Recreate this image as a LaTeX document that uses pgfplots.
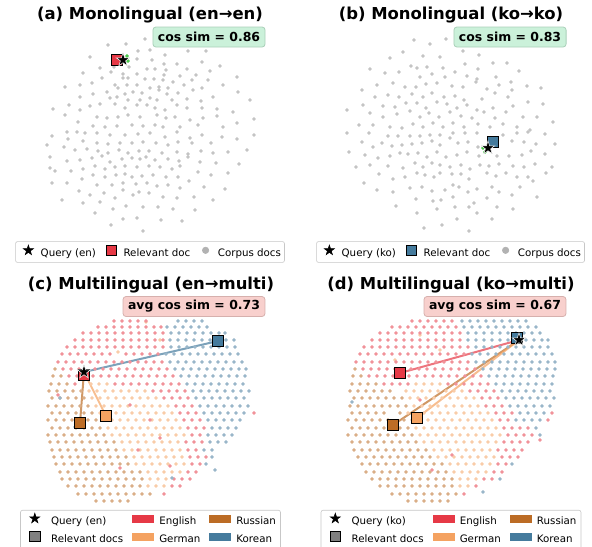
\documentclass[border=0pt]{standalone}
\usepackage{pgfplots}
\pgfplotsset{compat=1.18}
\usepackage{fontspec}
\setmainfont{DejaVu Sans}
\definecolor{cEn}{RGB}{230,57,70}
\definecolor{cDe}{RGB}{244,162,97}
\definecolor{cRu}{RGB}{188,108,37}
\definecolor{cKo}{RGB}{69,123,157}
\definecolor{gbox}{RGB}{203,241,218}
\definecolor{gedge}{RGB}{170,208,185}
\definecolor{pbox}{RGB}{248,208,205}
\definecolor{pedge}{RGB}{214,176,173}
\pgfdeclareplotmark{fstar}{%
  \pgfpathmoveto{\pgfpoint{0pt}{\pgfplotmarksize}}%
  \pgfpathlineto{\pgfpoint{0.2245\pgfplotmarksize}{0.309\pgfplotmarksize}}%
  \pgfpathlineto{\pgfpoint{0.951\pgfplotmarksize}{0.309\pgfplotmarksize}}%
  \pgfpathlineto{\pgfpoint{0.363\pgfplotmarksize}{-0.118\pgfplotmarksize}}%
  \pgfpathlineto{\pgfpoint{0.588\pgfplotmarksize}{-0.809\pgfplotmarksize}}%
  \pgfpathlineto{\pgfpoint{0pt}{-0.382\pgfplotmarksize}}%
  \pgfpathlineto{\pgfpoint{-0.588\pgfplotmarksize}{-0.809\pgfplotmarksize}}%
  \pgfpathlineto{\pgfpoint{-0.363\pgfplotmarksize}{-0.118\pgfplotmarksize}}%
  \pgfpathlineto{\pgfpoint{-0.951\pgfplotmarksize}{0.309\pgfplotmarksize}}%
  \pgfpathlineto{\pgfpoint{-0.2245\pgfplotmarksize}{0.309\pgfplotmarksize}}%
  \pgfpathclose
  \pgfusepathqfillstroke
}
\pgfplotsset{
  panel/.style={at={(0bp,0bp)}, anchor=north west, scale only axis,
    width=592bp, height=547bp, xmin=0, xmax=592, ymin=0, ymax=547,
    y dir=reverse, hide axis, clip=false, legend cell align=left,
    legend style={draw=black!22, rounded corners=2bp, line width=0.6bp, fill=white,
      font=\fontsize{10.3}{12}\selectfont, anchor=center,
      nodes={inner sep=1bp, text height=7.6bp, text depth=2.2bp}}},
  gray dots/.style={only marks, mark=*, mark size=1.65, mark options={draw=black!23, fill=black!23, line width=0.2bp}, forget plot},
  cdots/.style={only marks, mark=*, mark size=1.65, mark options={draw=#1!55!white, fill=#1!55!white, line width=0.2bp}, forget plot},
  qstar/.style={only marks, mark=fstar, mark size=7.2, mark options={fill=black, draw=white, line width=0.5bp}, forget plot},
  rsq/.style={only marks, mark=square*, mark size=#1, forget plot},
  starimg/.style={legend image code/.code={\path (0bp,0bp) (#1,0bp); \begin{scope}[shift={(0.5*#1,3.2bp)}]\pgfsetfillcolor{black}\pgfsetstrokecolor{black}\pgfsetplotmarksize{5.2bp}\pgfuseplotmark{fstar}\end{scope}}},
  sqimg/.style 2 args={legend image code/.code={\path (0bp,0bp) (#2,0bp); \draw[sharp corners, line width=0.9bp, black, fill=#1] (0.5*#2-5.3bp,-2.1bp) rectangle (0.5*#2+5.3bp,8.5bp);}},
  dotimg/.style={legend image code/.code={\path (0bp,0bp) (20bp,0bp); \fill[black!30] (10bp,3.2bp) circle (3.2bp);}},
  patchimg/.style={legend image code/.code={\fill[sharp corners, #1] (0bp,-0.3bp) rectangle (21bp,6.7bp);}},
}
\newcommand{\ttl}[1]{{\fontsize{16.5}{19}\selectfont\bfseries #1}}
\begin{document}
\begin{tikzpicture}
\useasboundingbox (0,0) rectangle (592bp,-547bp);
% ---------------- (a) ----------------
\begin{axis}[panel, legend columns=3,
  legend style={at={(0.2534,0.5393)}, inner xsep=2.5bp, inner ysep=3bp,
    /tikz/every odd column/.style={column sep=1bp}, /tikz/every even column/.style={column sep=4bp}}]
\addplot[gray dots] coordinates {
(108,45) (126,44) (145,39) (150,50) (138,51) (165,55) (188,51) (206,51) (90,57) (137,59) (152,60) (164,64) (177,64) (202,62) (220,66)
(100,68) (114,67) (129,67) (147,69) (155,69) (166,70) (187,69) (210,71) (83,73) (111,72) (123,74) (137,74) (164,75) (180,76) (196,75) (237,77)
(102,78) (123,78) (128,78) (145,79) (154,79) (163,80) (173,82) (192,80) (208,80) (80,85) (65,87) (92,83) (115,85) (127,85) (137,85) (150,88)
(159,87) (168,88) (184,85) (202,88) (223,85) (93,94) (107,92) (118,88) (125,94) (133,92) (142,93) (159,90) (167,94) (178,93) (193,90) (238,92)
(80,97) (110,98) (117,97) (128,100) (140,100) (150,98) (157,100) (172,100) (187,99) (201,101) (213,97) (250,100) (69,105) (90,106) (100,104)
(115,104) (125,108) (137,105) (147,105) (155,108) (165,110) (177,105) (187,108) (202,108) (217,109) (233,112) (53,109) (80,110) (65,115)
(97,117) (107,118) (118,117) (128,115) (140,117) (157,115) (166,118) (175,117) (190,120) (203,118) (217,116) (237,123) (254,119) (78,122) (93,126)
(105,127) (117,126) (132,125) (143,126) (155,125) (163,127) (180,127) (198,125) (223,127) (67,132) (85,133)
(52,136) (77,132) (97,133) (110,135) (125,135) (138,134) (150,133) (165,137) (177,132) (190,138) (202,135) (222,137) (237,139) (254,135)
(47,145) (68,139) (83,141) (97,143) (108,144) (120,143) (132,143) (143,142) (156,143) (168,145) (178,142) (192,143) (211,143)
(64,147) (75,150) (87,149) (98,151) (108,153) (119,150) (128,153) (139,151) (149,151) (162,153) (177,152) (188,154) (201,151) (213,153) (228,152) (247,150)
(50,157) (67,161) (80,160) (92,158) (102,156) (110,162) (122,159) (132,158) (140,159) (146,157) (155,160) (168,159) (179,161) (188,157) (200,162) (216,163) (239,164)
(50,168) (55,171) (71,171) (83,169) (95,166) (105,169) (115,167) (125,166) (137,167) (149,166) (160,167) (172,169) (180,166) (198,172) (228,173)
(82,179) (93,175) (105,177) (116,175) (125,174) (132,177) (142,176) (153,175) (166,177) (178,177) (189,181) (211,175)
(52,183) (67,183) (97,185) (112,185) (123,183) (136,184) (147,183) (157,186) (168,185) (180,188) (204,187)
(79,191) (90,195) (104,193) (123,190) (133,195) (139,192) (149,193) (163,197) (177,198) (194,197) (225,189)
(62,200) (83,203) (100,202) (115,198) (126,206) (143,207) (158,207) (173,209) (195,210) (213,200)
(95,213) (113,209) (123,219) (137,218) (161,220) (182,221) (111,225) (143,231)
};
\addplot[only marks, mark=*, mark size=1.6, mark options={draw=green!70!black!70, fill=green!70!black!70}, forget plot] coordinates {(127,56) (128,61)};
\addplot[rsq=5.3, mark options={fill=cEn, draw=black, line width=0.9bp}] coordinates {(117,60)};
\addplot[qstar] coordinates {(123,60)};
\addlegendimage{starimg=20bp}\addlegendentry{Query (en)}
\addlegendimage{sqimg={cEn}{20bp}}\addlegendentry{Relevant doc}
\addlegendimage{dotimg}\addlegendentry{Corpus docs}
\node[anchor=base] at (axis cs:150,19.5) {\ttl{(a) Monolingual (en→en)}};
\node[fill=gbox, draw=gedge, line width=0.8bp, rounded corners=3bp, inner xsep=5bp, minimum height=20bp, font=\fontsize{12.5}{15}\selectfont\bfseries] at (axis cs:209,37) {cos sim = 0.86};
\end{axis}
% ---------------- (b) ----------------
\begin{axis}[panel, legend columns=3,
  legend style={at={(0.7610,0.5393)}, inner xsep=2.5bp, inner ysep=3bp,
    /tikz/every odd column/.style={column sep=1bp}, /tikz/every even column/.style={column sep=4bp}}]
\addplot[gray dots] coordinates {
(414,40) (430,44) (446,39) (403,52) (423,56) (440,57) (463,51) (479,55) (390,58) (411,66) (417,68) (427,67) (443,68) (455,72) (465,64) (478,69)
(493,63) (507,63) (370,69) (385,73) (399,72) (420,77) (432,74) (445,77) (467,76) (477,79) (496,77) (519,71) (377,85) (393,83) (405,87) (416,87)
(426,84) (437,83) (452,86) (463,87) (476,82) (487,89) (499,85) (511,82) (527,86) (541,88) (362,90) (375,97) (388,95) (399,97) (412,94) (423,97)
(432,93) (444,97) (455,96) (464,100) (482,99) (495,93) (508,97) (512,90) (528,102) (543,104) (363,105) (383,106) (395,107) (406,103) (417,103)
(426,108) (437,102) (447,104) (457,108) (467,105) (477,110) (493,108) (513,106) (347,110) (370,113) (383,117) (397,114) (410,111) (420,117)
(429,113) (439,117) (450,112) (461,116) (472,118) (484,112) (495,118) (506,112) (523,117) (537,117) (553,122) (359,125) (373,125) (390,127)
(402,128) (413,124) (423,127) (433,123) (443,127) (453,123) (464,127) (478,124) (490,127) (503,124) (517,127) (530,130)
(347,133) (369,133) (388,136) (398,136) (410,136) (420,136) (430,135) (440,135) (453,133) (465,133) (477,133) (503,135) (517,133) (528,132) (545,134)
(362,142) (373,147) (382,143) (392,146) (402,145) (412,144) (422,143) (432,141) (440,145) (450,138) (458,143) (468,142) (478,147) (512,141) (524,142) (536,144) (555,144)
(349,152) (365,155) (378,158) (390,156) (400,153) (408,154) (418,153) (427,157) (437,152) (446,157) (457,155) (467,152) (479,156) (497,156) (509,156) (522,155) (531,151) (545,154)
(356,167) (370,165) (388,166) (403,168) (415,163) (423,167) (432,163) (440,165) (450,167) (461,165) (470,169) (480,165) (489,166) (499,164) (513,166) (524,167) (535,164) (552,167)
(379,174) (393,179) (405,177) (417,173) (425,175) (434,177) (440,173) (452,174) (461,174) (469,179) (487,173) (496,176) (506,173) (517,177) (528,177) (533,181) (546,173)
(364,183) (377,190) (393,192) (410,188) (422,187) (432,191) (445,190) (453,185) (459,187) (468,192) (477,189) (492,187) (499,192) (512,195) (520,187) (537,197)
(416,199) (433,201) (441,200) (453,197) (487,198) (497,207) (396,206) (437,209) (455,207) (469,207) (474,203) (477,213) (513,209) (417,213) (457,219) (492,219)
(424,228) (442,225) (469,231)
};
\addplot[only marks, mark=*, mark size=1.6, mark options={draw=green!70!black!70, fill=green!70!black!70}, forget plot] coordinates {(483,148) (485,152)};
\addplot[rsq=5.3, mark options={fill=cKo, draw=black, line width=0.9bp}] coordinates {(493,142)};
\addplot[qstar] coordinates {(488,148)};
\addlegendimage{starimg=20bp}\addlegendentry{Query (ko)}
\addlegendimage{sqimg={cKo}{20bp}}\addlegendentry{Relevant doc}
\addlegendimage{dotimg}\addlegendentry{Corpus docs}
\node[anchor=base] at (axis cs:451,19.5) {\ttl{(b) Monolingual (ko→ko)}};
\node[fill=gbox, draw=gedge, line width=0.8bp, rounded corners=3bp, inner xsep=5bp, minimum height=20bp, font=\fontsize{12.5}{15}\selectfont\bfseries] at (axis cs:510,37) {cos sim = 0.83};
\end{axis}
% ---------------- (c) ----------------
\begin{axis}[panel, legend columns=3,
  legend style={at={(0.2542,0.0320)}, inner xsep=3.5bp, inner ysep=3bp,
    /tikz/every odd column/.style={column sep=4.5bp}, /tikz/every even column/.style={column sep=8bp},
    /tikz/row sep=3.3bp}]
\addplot[cdots=cRu] coordinates {
(55,369) (53,376) (61,376) (51,384) (59,384) (67,384)
(49,391) (57,391) (65,391) (73,391) (81,391)
(52,398) (60,398) (68,398) (76,398) (84,398)
(48,406) (56,406) (64,406) (72,406) (80,406) (88,406)
(52,413) (60,413) (68,413) (76,413) (84,413) (92,413)
(48,420) (56,420) (64,420) (72,420) (88,420) (96,420)
(52,428) (60,428) (68,428) (76,428) (84,428) (92,428) (100,428)
(48,435) (56,435) (64,435) (72,435) (80,435) (88,435) (96,435) (104,435)
(50,442) (58,442) (66,442) (74,442) (82,442) (90,442) (98,442) (106,442) (114,442)
(52,450) (60,450) (68,450) (76,450) (84,450) (92,450) (100,450) (108,450) (116,450)
(54,457) (62,457) (70,457) (78,457) (86,457) (94,457) (102,457) (110,457) (118,457) (126,457)
(56,464) (64,464) (72,464) (80,464) (88,464) (96,464) (104,464) (112,464) (120,464) (128,464)
(60,472) (68,472) (76,472) (84,472) (92,472) (100,472) (108,472) (116,472) (124,472) (132,472) (140,472)
(62,479) (70,479) (78,479) (86,479) (94,479) (102,479) (110,479) (118,479) (126,479) (134,479) (142,479)
(68,486) (76,486) (84,486) (92,486) (100,486) (108,486) (116,486) (124,486) (132,486) (140,486)
(78,494) (86,494) (94,494) (102,494) (110,494) (118,494) (126,494) (134,494) (142,494) (150,494)
(96,501) (104,501) (112,501) (120,501) (128,501)
};
\addplot[cdots=cDe] coordinates {
(91,384) (99,384) (107,384)
(89,391) (97,391) (105,391) (113,391) (121,391) (129,391) (137,391) (145,391)
(92,398) (100,398) (108,398) (116,398) (124,398) (132,398) (140,398) (148,398) (156,398)
(96,406) (104,406) (112,406) (120,406) (128,406) (136,406) (144,406) (152,406) (160,406) (168,406)
(100,413) (108,413) (116,413) (124,413) (132,413) (140,413) (148,413) (156,413) (164,413) (172,413)
(104,420) (112,420) (120,420) (128,420) (136,420) (144,420) (152,420) (160,420) (168,420) (176,420)
(108,428) (116,428) (124,428) (132,428) (140,428) (148,428) (156,428) (164,428) (172,428) (180,428)
(112,435) (120,435) (128,435) (136,435) (144,435) (152,435) (160,435) (168,435) (176,435) (184,435)
(122,442) (130,442) (138,442) (146,442) (154,442) (162,442) (170,442) (178,442)
(124,450) (132,450) (140,450) (148,450) (156,450) (164,450) (172,450) (180,450)
(134,457) (142,457) (150,457) (158,457) (166,457) (174,457) (182,457)
(136,464) (144,464) (152,464) (160,464) (168,464) (176,464) (184,464)
(148,472) (156,472) (164,472) (172,472) (180,472)
(150,479) (158,479) (166,479) (148,486) (156,486) (164,486)
(146,322) (160,340) (118,352)
};
\addplot[cdots=cEn] coordinates {
(114,321) (122,321) (130,321) (138,321) (146,321)
(98,327) (106,327) (114,327) (122,327) (130,327) (138,327) (146,327) (154,327) (161,327)
(83,333) (91,333) (99,333) (107,333) (115,333) (123,333) (131,333) (139,333) (147,333) (155,333) (163,333)
(75,340) (83,340) (91,340) (99,340) (107,340) (115,340) (123,340) (131,340) (139,340) (147,340) (155,340) (163,340)
(67,347) (75,347) (83,347) (91,347) (99,347) (107,347) (115,347) (123,347) (131,347) (139,347) (147,347) (155,347) (163,347)
(62,354) (70,354) (78,354) (86,354) (94,354) (102,354) (110,354) (126,354) (134,354) (142,354) (150,354) (158,354)
(58,362) (66,362) (74,362) (82,362) (90,362) (98,362) (106,362) (114,362) (122,362) (130,362) (138,362) (146,362) (154,362) (162,362)
(63,369) (71,369) (79,369) (95,369) (103,369) (111,369) (119,369) (127,369) (135,369) (143,369) (151,369) (159,369) (167,369)
(69,376) (77,376) (93,376) (101,376) (109,376) (117,376) (125,376) (133,376) (141,376) (149,376) (157,376) (165,376) (173,376)
(75,384) (115,384) (123,384) (131,384) (139,384) (147,384) (155,384) (163,384) (171,384) (179,384)
(153,391) (161,391) (169,391) (177,391) (185,391)
(164,398) (172,398) (180,398) (188,398)
(176,406) (184,406) (192,406)
(180,413) (188,413) (196,413) (254,413)
(184,420) (192,420) (200,420)
(188,428) (196,428) (204,428)
(192,435) (200,435)
(186,442) (194,442) (202,442)
(188,450) (196,450)
(190,457) (198,457) (206,457)
(192,464) (200,464)
(188,472) (196,472)
(174,479) (182,479) (190,479)
(172,486) (180,486) (164,494)
(150,420) (138,450) (120,468) (170,466) (160,438) (130,405) (58,395)
};
\addplot[cdots=cKo] coordinates {
(178,321) (186,321) (194,321) (202,321)
(167,327) (175,327) (183,327) (191,327) (199,327) (207,327)
(171,333) (179,333) (187,333) (195,333) (203,333) (211,333) (219,333) (225,333)
(170,340) (178,340) (186,340) (194,340) (202,340) (210,340) (226,340) (234,340)
(171,347) (179,347) (187,347) (195,347) (203,347) (211,347) (219,347) (227,347) (235,347)
(166,354) (174,354) (182,354) (190,354) (198,354) (206,354) (214,354) (222,354) (230,354) (238,354)
(170,362) (178,362) (186,362) (194,362) (202,362) (210,362) (218,362) (226,362) (234,362) (242,362)
(175,369) (183,369) (191,369) (199,369) (207,369) (215,369) (223,369) (231,369) (239,369) (246,369)
(181,376) (189,376) (197,376) (205,376) (213,376) (221,376) (229,376) (237,376) (245,376)
(187,384) (195,384) (203,384) (211,384) (219,384) (227,384) (235,384) (243,384)
(193,391) (201,391) (209,391) (217,391) (225,391) (233,391) (241,391) (249,391)
(196,398) (204,398) (212,398) (220,398) (228,398) (236,398) (244,398)
(200,406) (208,406) (216,406) (224,406) (232,406) (240,406) (248,406)
(204,413) (212,413) (220,413) (228,413) (236,413) (244,413)
(208,420) (216,420) (224,420) (232,420) (240,420)
(212,428) (220,428) (228,428) (236,428)
(208,435) (216,435) (224,435) (232,435)
(210,442) (218,442) (226,442)
(204,450) (212,450) (212,457) (206,464)
(172,478) (215,470) (75,427) (60,398)
};
\addplot[cKo, line width=2bp, opacity=0.7, forget plot] coordinates {(84,372) (218,341)};
\addplot[cRu, line width=2bp, opacity=0.7, forget plot] coordinates {(84,372) (80,423)};
\addplot[cDe, line width=2bp, opacity=0.7, forget plot] coordinates {(84,372) (106,416)};
\addplot[rsq=5.8, mark options={fill=cEn, draw=black, line width=0.9bp}] coordinates {(84,375)};
\addplot[rsq=5.8, mark options={fill=cKo, draw=black, line width=0.9bp}] coordinates {(218,341)};
\addplot[rsq=5.8, mark options={fill=cRu, draw=black, line width=0.9bp}] coordinates {(80,423)};
\addplot[rsq=5.8, mark options={fill=cDe, draw=black, line width=0.9bp}] coordinates {(106,416)};
\addplot[qstar] coordinates {(84,372)};
\addlegendimage{starimg=21bp}\addlegendentry{Query (en)}
\addlegendimage{patchimg=cEn}\addlegendentry{English}
\addlegendimage{patchimg=cRu}\addlegendentry{Russian}
\addlegendimage{sqimg={black!50}{21bp}}\addlegendentry{Relevant docs}
\addlegendimage{patchimg=cDe}\addlegendentry{German}
\addlegendimage{patchimg=cKo}\addlegendentry{Korean}
\node[anchor=base] at (axis cs:151,289) {\ttl{(c) Multilingual (en→multi)}};
\node[fill=pbox, draw=pedge, line width=0.8bp, rounded corners=3bp, inner xsep=5bp, minimum height=20bp, font=\fontsize{12.5}{15}\selectfont\bfseries] at (axis cs:194,306.5) {avg cos sim = 0.73};
\end{axis}
% ---------------- (d) ----------------
\begin{axis}[panel, legend columns=3,
  legend style={at={(0.7618,0.0320)}, inner xsep=3.5bp, inner ysep=3bp,
    /tikz/every odd column/.style={column sep=4.5bp}, /tikz/every even column/.style={column sep=8bp},
    /tikz/row sep=3.3bp}]
\addplot[cdots=cRu] coordinates {
(355,369) (353,376) (361,376)
(352,384) (360,384) (368,384) (376,384)
(350,391) (358,391) (366,391) (374,391) (382,391) (390,391)
(354,398) (362,398) (370,398) (378,398) (386,398) (394,398) (402,398)
(350,406) (358,406) (366,406) (374,406) (382,406) (390,406) (398,406) (406,406)
(352,413) (360,413) (368,413) (376,413) (384,413) (400,413)
(348,420) (356,420) (364,420) (372,420) (380,420) (388,420) (404,420)
(352,428) (360,428) (368,428) (376,428) (384,428) (400,428) (408,428)
(348,435) (356,435) (364,435) (372,435) (380,435) (388,435) (396,435) (404,435) (412,435)
(352,442) (360,442) (368,442) (376,442) (384,442) (392,442) (400,442) (408,442) (416,442)
(354,450) (362,450) (370,450) (378,450) (386,450) (394,450) (402,450) (410,450) (418,450) (426,450)
(358,457) (366,457) (374,457) (382,457) (390,457) (398,457) (406,457) (414,457) (422,457) (430,457)
(362,464) (370,464) (378,464) (386,464) (394,464) (402,464) (410,464) (418,464) (426,464) (434,464) (442,464)
(366,472) (374,472) (382,472) (390,472) (398,472) (406,472) (414,472) (422,472) (430,472) (438,472) (446,472)
(372,479) (380,479) (388,479) (396,479) (404,479) (412,479) (420,479) (428,479) (436,479) (444,479) (452,479)
(380,486) (388,486) (396,486) (404,486) (412,486) (420,486) (428,486) (436,486) (444,486) (452,486)
(392,494) (400,494) (408,494) (416,494) (424,494) (432,494) (440,494) (448,494) (456,494)
(408,501) (416,501) (424,501) (432,501) (440,501) (448,501)
};
\addplot[cdots=cDe] coordinates {
(416,384) (424,384) (432,384) (440,384)
(406,391) (414,391) (422,391) (430,391) (438,391) (446,391) (454,391) (462,391)
(410,398) (418,398) (426,398) (434,398) (442,398) (450,398) (458,398) (466,398) (474,398)
(414,406) (422,406) (430,406) (438,406) (446,406) (454,406) (462,406) (470,406) (478,406)
(408,413) (424,413) (432,413) (440,413) (448,413) (456,413) (464,413) (472,413) (480,413) (488,413)
(412,420) (428,420) (436,420) (444,420) (452,420) (460,420) (468,420) (476,420) (484,420) (492,420)
(416,428) (424,428) (432,428) (440,428) (448,428) (456,428) (464,428) (472,428) (480,428) (488,428) (496,428)
(420,435) (428,435) (436,435) (444,435) (452,435) (460,435) (468,435) (476,435) (484,435) (492,435) (500,435)
(424,442) (432,442) (440,442) (448,442) (456,442) (464,442) (472,442) (480,442) (488,442) (496,442)
(434,450) (442,450) (450,450) (458,450) (466,450) (474,450) (482,450) (490,450)
(438,457) (446,457) (454,457) (462,457) (470,457) (478,457) (486,457) (494,457)
(450,464) (458,464) (466,464) (474,464) (482,464) (490,464)
(454,472) (462,472) (470,472) (478,472) (486,472)
(460,479) (468,479) (476,479) (460,486) (468,486)
(420,335) (440,350) (395,360)
};
\addplot[cdots=cEn] coordinates {
(412,321) (420,321) (428,321) (436,321) (444,321) (452,321)
(392,327) (400,327) (408,327) (416,327) (424,327) (432,327) (440,327) (448,327) (456,327)
(380,333) (388,333) (396,333) (404,333) (412,333) (420,333) (428,333) (436,333) (444,333) (452,333) (460,333)
(372,340) (380,340) (388,340) (396,340) (404,340) (412,340) (420,340) (428,340) (436,340) (444,340) (452,340) (460,340)
(364,347) (372,347) (380,347) (388,347) (396,347) (404,347) (412,347) (420,347) (428,347) (436,347) (444,347) (452,347) (460,347) (468,347)
(360,354) (368,354) (376,354) (384,354) (392,354) (400,354) (408,354) (416,354) (424,354) (432,354) (440,354) (448,354) (456,354) (464,354)
(356,362) (364,362) (372,362) (380,362) (388,362) (396,362) (404,362) (412,362) (420,362) (428,362) (436,362) (444,362) (452,362) (460,362) (468,362)
(363,369) (371,369) (379,369) (387,369) (395,369) (403,369) (411,369) (419,369) (427,369) (435,369) (443,369) (451,369) (459,369) (467,369) (475,369)
(369,376) (377,376) (385,376) (393,376) (409,376) (417,376) (425,376) (433,376) (441,376) (449,376) (457,376) (465,376) (473,376) (481,376)
(384,384) (392,384) (400,384) (408,384) (448,384) (456,384) (464,384) (472,384) (480,384) (488,384)
(470,391) (478,391) (486,391) (494,391)
(482,398) (490,398) (498,398)
(486,406) (494,406) (502,406)
(496,413) (504,413) (512,413) (552,413)
(500,420) (508,420) (548,420)
(504,428) (512,428) (520,428) (528,428)
(508,435) (516,435) (524,435) (532,435)
(504,442) (512,442) (520,442) (528,442)
(498,450) (506,450) (514,450) (522,450)
(502,457) (510,457) (518,457)
(498,464) (506,464) (494,472) (502,472)
(484,479) (492,479) (476,486) (464,494)
(432,470) (452,455) (540,440) (420,400)
};
\addplot[cdots=cKo] coordinates {
(462,321) (470,321) (478,321) (486,321) (494,321) (502,321) (510,321) (518,321) (526,321)
(464,327) (472,327) (480,327) (488,327) (496,327) (504,327) (512,327) (520,327) (528,327) (536,327)
(468,333) (476,333) (484,333) (492,333) (500,333) (508,333) (516,333) (524,333) (532,333) (540,333)
(468,340) (476,340) (484,340) (492,340) (500,340) (508,340) (526,340) (534,340) (542,340) (548,340)
(476,347) (484,347) (492,347) (500,347) (508,347) (516,347) (524,347) (532,347) (540,347) (548,347)
(472,354) (480,354) (488,354) (496,354) (504,354) (512,354) (520,354) (528,354) (536,354) (544,354) (552,354)
(476,362) (484,362) (492,362) (500,362) (508,362) (516,362) (524,362) (532,362) (540,362) (548,362) (555,362)
(483,369) (491,369) (499,369) (507,369) (515,369) (523,369) (531,369) (539,369) (547,369) (555,369)
(489,376) (497,376) (505,376) (513,376) (521,376) (529,376) (537,376) (545,376) (553,376)
(496,384) (504,384) (512,384) (520,384) (528,384) (536,384) (544,384) (552,384)
(502,391) (510,391) (518,391) (526,391) (534,391) (542,391) (550,391)
(506,398) (514,398) (522,398) (530,398) (538,398) (546,398) (554,398)
(510,406) (518,406) (526,406) (534,406) (542,406) (550,406)
(520,413) (528,413) (536,413) (544,413)
(516,420) (524,420) (532,420) (540,420)
(536,428) (540,435) (512,464) (500,479) (483,492) (352,402)
};
\addplot[cEn, line width=2bp, opacity=0.7, forget plot] coordinates {(519,340) (400,373)};
\addplot[cRu, line width=2bp, opacity=0.7, forget plot] coordinates {(519,340) (393,425)};
\addplot[cDe, line width=2bp, opacity=0.7, forget plot] coordinates {(519,340) (417,418)};
\addplot[rsq=5.8, mark options={fill=cKo, draw=black, line width=0.9bp}] coordinates {(517,338)};
\addplot[rsq=5.8, mark options={fill=cEn, draw=black, line width=0.9bp}] coordinates {(400,373)};
\addplot[rsq=5.8, mark options={fill=cRu, draw=black, line width=0.9bp}] coordinates {(393,425)};
\addplot[rsq=5.8, mark options={fill=cDe, draw=black, line width=0.9bp}] coordinates {(417,418)};
\addplot[qstar] coordinates {(519,340)};
\addlegendimage{starimg=21bp}\addlegendentry{Query (ko)}
\addlegendimage{patchimg=cEn}\addlegendentry{English}
\addlegendimage{patchimg=cRu}\addlegendentry{Russian}
\addlegendimage{sqimg={black!50}{21bp}}\addlegendentry{Relevant docs}
\addlegendimage{patchimg=cDe}\addlegendentry{German}
\addlegendimage{patchimg=cKo}\addlegendentry{Korean}
\node[anchor=base] at (axis cs:451,289) {\ttl{(d) Multilingual (ko→multi)}};
\node[fill=pbox, draw=pedge, line width=0.8bp, rounded corners=3bp, inner xsep=5bp, minimum height=20bp, font=\fontsize{12.5}{15}\selectfont\bfseries] at (axis cs:495,306.5) {avg cos sim = 0.67};
\end{axis}
\end{tikzpicture}
\end{document}
